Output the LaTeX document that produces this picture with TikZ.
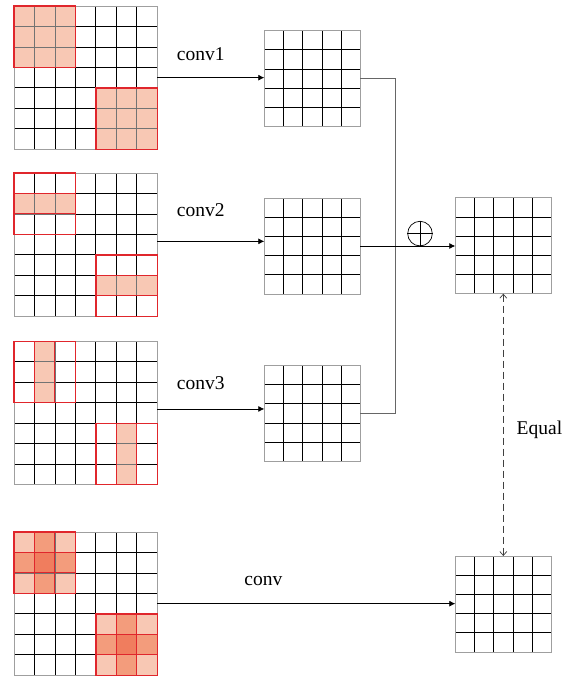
\documentclass[tikz,border=0pt]{standalone}
\usepackage{fontspec}
\setmainfont{Liberation Serif}
\usetikzlibrary{arrows.meta}
\definecolor{lightred}{HTML}{F8C8B4}
\definecolor{midred}{HTML}{F39C7C}
\definecolor{darkred}{HTML}{F07D5E}
\definecolor{boxred}{HTML}{E0262C}
\tikzset{
  gridline/.style={black, line width=0.8pt},
  gridbox/.style={draw=gray!75, line width=0.9pt, inner sep=0pt, outer sep=0pt, fill=none},
  cellstyle/.style={draw=black!55, line width=0.8pt},
  redbox/.style={draw=boxred, line width=1.3pt},
  redstrip/.style={draw=boxred, line width=1pt},
  arr/.style={black, line width=0.8pt, -{Latex[length=6pt,width=6pt]}},
  conn/.style={gray!80!black, line width=0.8pt},
  dasharr/.style={black!75, line width=0.7pt, dash pattern=on 7pt off 4pt,
    {Straight Barb[length=4pt,width=7pt]}-{Straight Barb[length=4pt,width=7pt]}},
  lab/.style={font=\fontsize{19.5}{22}\selectfont, inner sep=0pt}
}
% #1 name, #2 X, #3 Y, #4 n-1, #5 cell, #6 size
\newcommand{\drawgrid}[6]{%
  \foreach \i in {1,...,#4} {
    \draw[gridline] ({#2+\i*#5},#3) -- ++(0,#6);
    \draw[gridline] (#2,{#3+\i*#5}) -- ++(#6,0);
  }
  \node[gridbox, minimum size=#6pt, anchor=north west] (#1) at (#2,#3) {};
}
\def\s{20.47}
\def\L{143.3}
% color, X, Y, col, row
\newcommand{\cellfill}[5]{\filldraw[cellstyle, fill=#1] ({#2+(#4)*\s},{#3+(#5)*\s}) rectangle ++(\s,\s);}
% X, Y, col, row, w, h  (in cells), style
\newcommand{\rbox}[7]{\draw[#7] ({#1+(#3)*\s},{#2+(#4)*\s}) rectangle ++({(#5)*\s},{(#6)*\s});}
\begin{document}
\begin{tikzpicture}[x=1pt,y=-1pt]
\useasboundingbox (0,0) rectangle (565,677);
% ---------- grids ----------
\drawgrid{g1}{14}{6}{6}{\s}{\L}
\drawgrid{g2}{14}{173}{6}{\s}{\L}
\drawgrid{g3}{14}{341.3}{6}{\s}{\L}
\drawgrid{g4}{14}{532}{6}{\s}{\L}
\drawgrid{gA}{264.3}{30.7}{4}{19.2}{96}
\drawgrid{gB}{264.3}{198}{4}{19.2}{96}
\drawgrid{gC}{264.3}{365.3}{4}{19.2}{96}
\drawgrid{gD}{455.3}{197.7}{4}{19.2}{96}
\drawgrid{gE}{455.3}{556}{4}{19.2}{96}
% ---------- fills of left grids ----------
% grid 1
\foreach \c in {0,1,2} \foreach \r in {0,1,2} {\cellfill{lightred}{14}{6}{\c}{\r}}
\foreach \c in {4,5,6} \foreach \r in {4,5,6} {\cellfill{lightred}{14}{6}{\c}{\r}}
% grid 2
\foreach \c in {0,1,2} {\cellfill{lightred}{14}{173}{\c}{1}}
\foreach \c in {4,5,6} {\cellfill{lightred}{14}{173}{\c}{5}}
% grid 3
\foreach \r in {0,1,2} {\cellfill{lightred}{14}{341.3}{1}{\r}}
\foreach \r in {4,5,6} {\cellfill{lightred}{14}{341.3}{5}{\r}}
% grid 4
\foreach \ofc/\ofr in {0/0,4/4} {
  \foreach \c/\r/\col in {0/0/lightred,1/0/midred,2/0/lightred,
                          0/1/midred,1/1/darkred,2/1/midred,
                          0/2/lightred,1/2/midred,2/2/lightred} {
    \cellfill{\col}{14}{532}{\ofc+\c}{\ofr+\r}
  }
}
% ---------- red outlines ----------
\rbox{14}{6}{0}{0}{3}{3}{redbox}
\rbox{14}{6}{4}{4}{3}{3}{redbox}
\rbox{14}{173}{0}{1}{3}{1}{redstrip}
\rbox{14}{173}{4}{5}{3}{1}{redstrip}
\rbox{14}{173}{0}{0}{3}{3}{redbox}
\rbox{14}{173}{4}{4}{3}{3}{redbox}
\rbox{14}{341.3}{1}{0}{1}{3}{redstrip}
\rbox{14}{341.3}{5}{4}{1}{3}{redstrip}
\rbox{14}{341.3}{0}{0}{3}{3}{redbox}
\rbox{14}{341.3}{4}{4}{3}{3}{redbox}
\rbox{14}{532}{1}{0}{1}{3}{redstrip}
\rbox{14}{532}{0}{1}{3}{1}{redstrip}
\rbox{14}{532}{5}{4}{1}{3}{redstrip}
\rbox{14}{532}{4}{5}{3}{1}{redstrip}
\rbox{14}{532}{0}{0}{3}{3}{redbox}
\rbox{14}{532}{4}{4}{3}{3}{redbox}
% ---------- arrows ----------
\draw[arr] (g1.east) -- (g1.east -| gA.west);
\coordinate (a2) at ([yshift=3.3pt]g2.east);
\draw[arr] (a2) -- (a2 -| gB.west);
\coordinate (a3) at ([yshift=4pt]g3.east);
\draw[arr] (a3) -- (a3 -| gC.west);
\draw[arr] (g4.east) -- (g4.east -| gE.west);
% right connectors
\draw[conn] (gA.east) -- ++(35.2,0) coordinate (vtop) |- (gC.east);
\draw[arr] (gB.east) -- (gB.east -| gD.west);
% oplus
\node[draw, circle, minimum size=24.6pt, inner sep=0pt, line width=0.7pt] (op) at (420,233.6) {};
\draw[line width=0.7pt] (op.north) -- (op.south) (op.west) -- (op.east);
% dashed equal arrow
\draw[dasharr] (gD.south) -- (gE.north);
% ---------- labels ----------
\node[lab] (l1) at (200.7,54.3) {conv1};
\node[lab] (l2) at (200.7,210) {conv2};
\node[lab] (l3) at (200.7,382.7) {conv3};
\node[lab] (l4) at (263.3,580.7) {conv};
\node[lab, anchor=west] (l5) at (516.5,430) {Equal};
\end{tikzpicture}
\end{document}
